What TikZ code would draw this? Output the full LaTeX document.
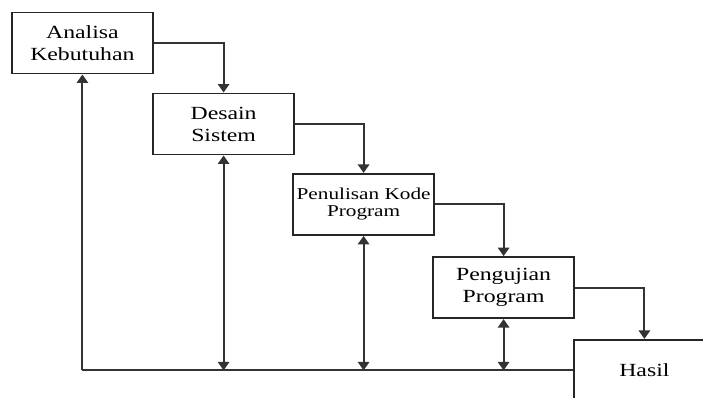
\documentclass[tikz,border=0pt]{standalone}
\usepackage{fontspec}
\setmainfont{Liberation Serif}
\newfontfamily\boxfont[FakeStretch=1.28]{Liberation Serif}
\usetikzlibrary{positioning,arrows.meta}
\tikzset{
  flowarrow/.style={-{Triangle[length=6pt,width=8pt]}, line width=1.4pt, draw=black!80},
  backarrow/.style={{Triangle[length=6pt,width=8pt]}-{Triangle[length=6pt,width=8pt]}, line width=1.4pt, draw=black!80},
  feedline/.style={line width=1.4pt, draw=black!80},
  phasebox/.style={draw=black!85, line width=1.4pt, fill=white, minimum width=3.525cm, minimum height=1.525cm, align=center, inner sep=2pt, font=\boxfont\fontsize{13.2}{15.6}\selectfont},
  phasesmall/.style={phasebox, font=\boxfont\fontsize{11.8}{12}\selectfont}
}

\begin{document}
\begin{tikzpicture}[>=Triangle]
  \clip (0,0) rectangle (17.575,-9.925);
  \node[phasebox] (analisa) at (2.06,-1.075) {Analisa\\ Kebutuhan};
  \node[phasebox] (desain) at (5.59,-3.1) {Desain\\ Sistem};
  \node[phasesmall] (kode) at (9.09,-5.11) {Penulisan Kode\\ Program};
  \node[phasebox] (uji) at (12.59,-7.19) {Pengujian\\ Program};
  \node[phasebox] (hasil) at (16.11,-9.26) {Hasil};
  % alur maju
  \draw[flowarrow] (analisa.east) -| (desain.north);
  \draw[flowarrow] (desain.east) -| (kode.north);
  \draw[flowarrow] (kode.east) -| (uji.north);
  \draw[flowarrow] (uji.east) -| (hasil.north);
  % alur balik
  \coordinate (pojok) at (analisa.south |- hasil.west);
  \draw[feedline] (hasil.west) -- (pojok);
  \draw[flowarrow] (pojok) -- (analisa.south);
  \draw[backarrow] (desain.south) -- (desain.south |- hasil.west);
  \draw[backarrow] (kode.south) -- (kode.south |- hasil.west);
  \draw[backarrow] (uji.south) -- (uji.south |- hasil.west);
\end{tikzpicture}
\end{document}
